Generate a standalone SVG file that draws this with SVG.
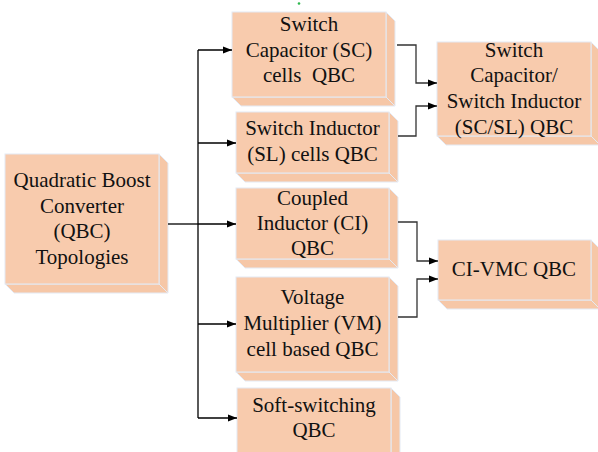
<svg xmlns="http://www.w3.org/2000/svg" width="598" height="452" viewBox="0 0 598 452">
<style>
.front{fill:#f8cbad;stroke:#e4eaf4;stroke-width:1}
.side{fill:#f6c7a7;stroke:#e4eaf4;stroke-width:1}
.t{font-family:"Liberation Serif","Times New Roman",serif;font-size:21px;fill:#111;text-anchor:middle}
.c{fill:none;stroke:#000;stroke-width:1.3}
.c2{fill:none;stroke:#333;stroke-width:1.3}
</style>
<defs>
<marker id="ah" markerWidth="9" markerHeight="8" refX="9" refY="4" orient="auto" markerUnits="userSpaceOnUse">
<path d="M0,0.5 L9,4 L0,7.5 Z" fill="#000"/>
</marker>
</defs>
<rect width="598" height="452" fill="#fff"/>
<circle cx="299" cy="3.5" r="1.3" fill="#2db84d"/>

<g id="qbc">
<polygon class="side" points="159,154 168,163 168,293 159,284"/>
<polygon class="side" points="5,284 159,284 168,293 14,293"/>
<rect class="front" x="5" y="154" width="154" height="130"/>
<text class="t" x="82" y="187">Quadratic Boost</text>
<text class="t" x="82" y="213">Converter</text>
<text class="t" x="82" y="238">(QBC)</text>
<text class="t" x="82" y="264">Topologies</text>
</g>

<g id="sc">
<polygon class="side" points="386,12 395,21 395,106 386,97"/>
<polygon class="side" points="232,97 386,97 395,106 241,106"/>
<rect class="front" x="232" y="12" width="154" height="85"/>
<text class="t" x="309" y="31">Switch</text>
<text class="t" x="309" y="57">Capacitor (SC)</text>
<text class="t" x="309" y="82" xml:space="preserve">cells  QBC</text>
</g>

<g id="sl">
<polygon class="side" points="389,112 398,121 398,182 389,173"/>
<polygon class="side" points="236,173 389,173 398,182 245,182"/>
<rect class="front" x="236" y="112" width="153" height="61"/>
<text class="t" x="312.5" y="135">Switch Inductor</text>
<text class="t" x="312.5" y="161">(SL) cells QBC</text>
</g>

<g id="ci">
<polygon class="side" points="389,188 398,197 398,268 389,259"/>
<polygon class="side" points="236,259 389,259 398,268 245,268"/>
<rect class="front" x="236" y="188" width="153" height="71"/>
<text class="t" x="312.5" y="205">Coupled</text>
<text class="t" x="312.5" y="230">Inductor (CI)</text>
<text class="t" x="312.5" y="255">QBC</text>
</g>

<g id="vm">
<polygon class="side" points="389,277 398,286 398,381 389,372"/>
<polygon class="side" points="236,372 389,372 398,381 245,381"/>
<rect class="front" x="236" y="277" width="153" height="95"/>
<text class="t" x="312.5" y="304">Voltage</text>
<text class="t" x="312.5" y="330">Multiplier (VM)</text>
<text class="t" x="312.5" y="356">cell based QBC</text>
</g>

<g id="soft">
<polygon class="side" points="391,388 400,397 400,469 391,460"/>
<rect class="front" x="237" y="388" width="154" height="72"/>
<text class="t" x="314" y="412">Soft-switching</text>
<text class="t" x="314" y="437">QBC</text>
</g>

<g id="scsl">
<polygon class="side" points="591,42 600,51 600,145 591,136"/>
<polygon class="side" points="437,136 591,136 600,145 446,145"/>
<rect class="front" x="437" y="42" width="154" height="94"/>
<text class="t" x="514" y="57">Switch</text>
<text class="t" x="514" y="82">Capacitor/</text>
<text class="t" x="514" y="108">Switch Inductor</text>
<text class="t" x="514" y="134">(SC/SL) QBC</text>
</g>

<g id="civmc">
<polygon class="side" points="591,240 600,249 600,309 591,300"/>
<polygon class="side" points="438,300 591,300 600,309 447,309"/>
<rect class="front" x="438" y="240" width="153" height="60"/>
<text class="t" x="514" y="276">CI-VMC QBC</text>
</g>

<g id="connectors">
<path class="c" d="M168,224 H198"/>
<path class="c" d="M198,50 V418"/>
<path class="c" d="M198,50 H232" marker-end="url(#ah)"/>
<path class="c" d="M198,143 H236" marker-end="url(#ah)"/>
<path class="c" d="M198,224 H236" marker-end="url(#ah)"/>
<path class="c" d="M198,324 H236" marker-end="url(#ah)"/>
<path class="c" d="M198,418 H237" marker-end="url(#ah)"/>
<path class="c2" d="M397,45 H416 V83 H437" marker-end="url(#ah)"/>
<path class="c2" d="M398,136 H416 V106 H437" marker-end="url(#ah)"/>
<path class="c2" d="M398,222 H417 V261 H438" marker-end="url(#ah)"/>
<path class="c2" d="M398,317 H417 V279 H438" marker-end="url(#ah)"/>
</g>
</svg>
